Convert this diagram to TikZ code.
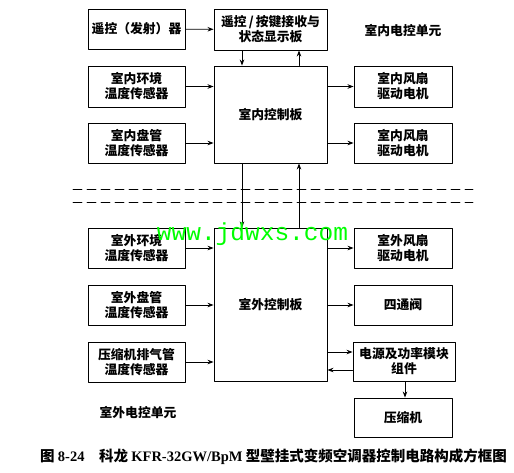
\documentclass[tikz,border=0pt]{standalone}
\usepackage{fontspec}
\usetikzlibrary{arrows.meta}
\newfontfamily\cjk{Noto Sans CJK SC}
\newfontfamily\capserif{Liberation Serif}
\newfontfamily\wmfont{Liberation Mono}
\begin{document}
\begin{tikzpicture}[>={Stealth[length=6pt,width=4.5pt]},line join=round,line cap=round,x=1pt,y=-1pt,
	font=\cjk\bfseries\fontsize{12.8}{15}\selectfont,
	blk/.style={draw,line width=0.9pt,align=center,inner sep=1pt,minimum width=97pt,minimum height=40pt},
	ctl/.style={blk,minimum width=113pt},
	arr/.style={->,line width=0.8pt}]
	\useasboundingbox (0,0) rectangle (514,472);
	% indoor unit
	\node[blk] (remote) at (136.5,29) {遥控（发射）器};
	\node[ctl,minimum height=41pt] (disp) at (270.5,29.5) {遥控\,/\,按键接收与\\状态显示板};
	\node[ctl,minimum height=97pt] (inctl) at (270.5,114.5) {室内控制板};
	\node[blk,minimum height=41pt] (inenv) at (136.5,86.5) {室内环境\\温度传感器};
	\node[blk] (incoil) at (136.5,143) {室内盘管\\温度传感器};
	\node[blk,minimum width=98pt,minimum height=41pt] (infan1) at (403,86.5) {室内风扇\\驱动电机};
	\node[blk,minimum width=98pt] (infan2) at (403,143) {室内风扇\\驱动电机};
	\node (intitle) at (403,31) {室内电控单元};
	% outdoor unit
	\node[ctl,minimum height=153pt] (outctl) at (270.5,304.5) {室外控制板};
	\node[blk] (outenv) at (136.5,248) {室外环境\\温度传感器};
	\node[blk] (outcoil) at (136.5,305) {室外盘管\\温度传感器};
	\node[blk] (exhaust) at (136.5,362) {压缩机排气管\\温度传感器};
	\node[blk,minimum width=98pt] (outfan) at (403,248) {室外风扇\\驱动电机};
	\node[blk,minimum width=98pt] (valve) at (403,305) {四通阀};
	\node[blk,minimum width=102pt,minimum height=39pt] (power) at (404,361.5) {电源及功率模块\\组件};
	\node[blk,minimum width=98pt,minimum height=39pt] (comp) at (403,417.5) {压缩机};
	\node (outtitle) at (138,413) {室外电控单元};
	% links
	\draw[arr] (remote) -- (disp);
	\draw[arr] ([xshift=-28.5pt]disp.south) -- ([xshift=-28.5pt]inctl.north);
	\draw[arr] ([xshift=28.5pt]inctl.north) -- ([xshift=28.5pt]disp.south);
	\draw[arr] ([xshift=-28.5pt]inctl.south) -- ([xshift=-28.5pt]outctl.north);
	\draw[arr] ([xshift=28.5pt]outctl.north) -- ([xshift=28.5pt]inctl.south);
	\foreach \s in {inenv,incoil}
	\draw[arr] (\s.east) -- (\s.east -| inctl.west);
	\foreach \s in {infan1,infan2}
	\draw[arr] (\s.west -| inctl.east) -- (\s.west);
	\foreach \s in {outenv,outcoil,exhaust}
	\draw[arr] (\s.east) -- (\s.east -| outctl.west);
	\foreach \s in {outfan,valve}
	\draw[arr] (\s.west -| outctl.east) -- (\s.west);
	\coordinate (pin) at ([yshift=9.5pt]power.west);
	\coordinate (pout) at ([yshift=-8.5pt]power.west);
	\draw[arr] (pin -| outctl.east) -- (pin);
	\draw[arr] (pout) -- (pout -| outctl.east);
	\draw[arr] ([xshift=1pt]power.south) -- ([xshift=2pt]comp.north);
	% boundary
	\foreach \y in {189,202}
	\draw[line width=0.8pt,dash pattern=on 9pt off 5pt] (73,\y) -- (473,\y);
	\node[text={rgb,255:red,0;green,255;blue,0},font=\wmfont\fontsize{24.5}{24.5}\selectfont] (wm) at (252.5,234) {www.jdwxs.com};
	\node[font=\cjk\bfseries\fontsize{14.5}{16}\selectfont] (caption) at (273.5,457)
	{图 {\capserif\bfseries 8-24}\quad 科龙 {\capserif\bfseries KFR-32GW/BpM} 型壁挂式变频空调器控制电路构成方框图};
\end{tikzpicture}
\end{document}
